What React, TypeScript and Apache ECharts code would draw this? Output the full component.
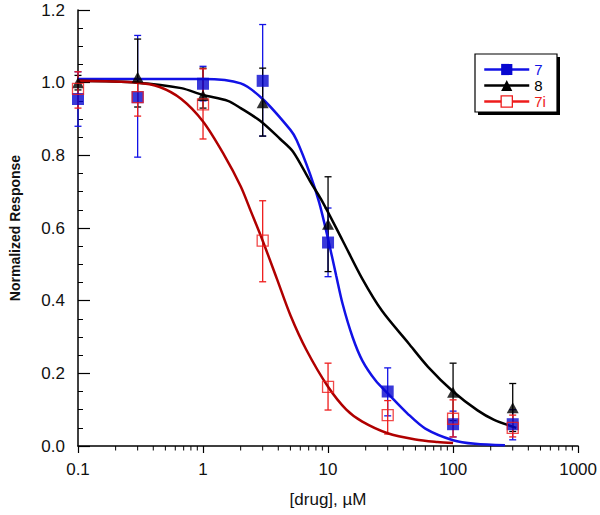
import React, { useEffect, useRef } from "react";
import * as echarts from "echarts";

// ---- data ----
const dose7 = [0.1, 0.3, 1, 3, 10, 30, 100, 300];
const resp7 = [0.955, 0.96, 0.997, 1.005, 0.56, 0.15, 0.06, 0.06];
const lo7 = [0.88, 0.795, 0.95, 0.853, 0.466, 0.083, 0.025, 0.017];
const hi7 = [1.03, 1.13, 1.045, 1.16, 0.655, 0.215, 0.096, 0.1];

const dose8 = [0.1, 0.3, 1, 3, 10, 100, 300];
const resp8 = [1.0, 1.015, 0.965, 0.945, 0.61, 0.148, 0.105];
const lo8 = [0.98, 0.933, 0.93, 0.853, 0.48, 0.07, 0.04];
const hi8 = [1.02, 1.12, 1.04, 1.04, 0.741, 0.228, 0.172];

const dose7i = [0.1, 0.3, 1, 3, 10, 30, 100, 300];
const resp7i = [0.983, 0.96, 0.94, 0.565, 0.163, 0.085, 0.075, 0.05];
const lo7i = [0.93, 0.908, 0.845, 0.452, 0.099, 0.033, 0.025, 0.025];
const hi7i = [1.03, 1.0, 1.038, 0.675, 0.228, 0.125, 0.127, 0.085];

// fitted curves
const fit7X = [0.1, 0.3, 1, 2, 3, 5, 5.6, 7.15, 8.5, 10, 11.6, 13.1, 15.7, 18.8, 24, 30, 43, 60, 100, 150, 260];
const fit7Y = [1.01, 1.01, 1.01, 0.998, 0.955, 0.87, 0.842, 0.75, 0.67, 0.57, 0.47, 0.39, 0.3, 0.235, 0.18, 0.145, 0.09, 0.048, 0.016, 0.006, 0.002];

const fit8X = [0.1, 0.3, 0.67, 1, 1.58, 2, 2.86, 4.14, 5.25, 7.15, 9.1, 13.1, 18.8, 27, 44, 63, 100, 157, 213, 320];
const fit8Y = [1.005, 1.0, 0.985, 0.966, 0.95, 0.93, 0.895, 0.845, 0.81, 0.73, 0.67, 0.565, 0.46, 0.372, 0.283, 0.218, 0.15, 0.098, 0.072, 0.05];

const fit7iX = [0.1, 0.3, 0.45, 0.67, 1, 1.48, 2, 2.42, 3, 3.9, 5, 6.7, 10, 14, 18.8, 30, 50, 75, 100];
const fit7iY = [1.005, 1.0, 0.988, 0.955, 0.893, 0.8, 0.715, 0.645, 0.565, 0.46, 0.36, 0.265, 0.163, 0.1, 0.067, 0.035, 0.018, 0.011, 0.008];

const seriesNames = ["7", "8", "7i"];
const xTickLabels = [0.1, 1, 10, 100, 1000];
const minorMantissas = [2, 3, 4, 5, 6, 7, 8, 9];
const minorDecades = [0.1, 1, 10, 100];

const BLUE = "#1212e6";
const BLUE_MK = "#0808d0";
const RED_CURVE = "#b00000";
const RED = "#ee1c1c";
const BLACK = "#000000";
const FONT = "'Liberation Sans', Arial, sans-serif";

const zip = (a: number[], b: number[]) => a.map((v, i) => [v, b[i]]);
const zip3 = (a: number[], b: number[], c: number[]) => a.map((v, i) => [v, b[i], c[i]]);

function errorBars(name: string, data: number[][], color: string) {
  return {
    type: "custom",
    name,
    z: 2,
    data,
    encode: { x: 0, y: [1, 2] },
    renderItem: (params: any, api: any) => {
      const x = api.value(0);
      const pLo = api.coord([x, api.value(1)]);
      const pHi = api.coord([x, api.value(2)]);
      const w = 3.5;
      const st = { stroke: color, lineWidth: 1.3 };
      return {
        type: "group",
        children: [
          { type: "line", shape: { x1: pLo[0], y1: pLo[1], x2: pHi[0], y2: pHi[1] }, style: st },
          { type: "line", shape: { x1: pHi[0] - w, y1: pHi[1], x2: pHi[0] + w, y2: pHi[1] }, style: st },
          { type: "line", shape: { x1: pLo[0] - w, y1: pLo[1], x2: pLo[0] + w, y2: pLo[1] }, style: st },
        ],
      };
    },
  };
}

function curve(name: string, xs: number[], ys: number[], color: string, symbol: string) {
  return {
    type: "line",
    name,
    z: 3,
    data: zip(xs, ys),
    smooth: 0.3,
    showSymbol: false,
    symbol,
    lineStyle: { color, width: 2.5 },
    itemStyle: { color },
  };
}

export default function App() {
  const ref = useRef<HTMLDivElement>(null);
  useEffect(() => {
    if (!ref.current) return;
    const chart = echarts.init(ref.current, null, { renderer: "svg" });
    const minorTicks: number[][] = [];
    minorDecades.forEach((d) => minorMantissas.forEach((m) => minorTicks.push([+(d * m).toPrecision(6), 0])));

    const option: any = {
      animation: false,
      backgroundColor: "#fff",
      textStyle: { fontFamily: FONT },
      grid: { left: 75, right: 18, top: 10, bottom: 69 },
      xAxis: {
        type: "log",
        logBase: 10,
        min: xTickLabels[0],
        max: xTickLabels[xTickLabels.length - 1],
        axisLine: { lineStyle: { color: BLACK, width: 1.5 } },
        axisTick: { inside: false, length: 7, lineStyle: { color: BLACK, width: 1.2 } },
        axisLabel: {
          color: "#111",
          fontSize: 17,
          margin: 15,
          fontFamily: FONT,
          formatter: (v: number) => String(+(+v).toPrecision(6)),
        },
        splitLine: { show: false },
        name: "[drug], µM",
        nameLocation: "middle",
        nameGap: 45,
        nameTextStyle: { fontSize: 17, color: "#111", fontFamily: FONT },
      },
      yAxis: {
        type: "value",
        min: 0,
        max: 1.2,
        interval: 0.2,
        axisLine: { show: true, lineStyle: { color: BLACK, width: 1.5 } },
        axisTick: { show: true, inside: true, length: 12, lineStyle: { color: BLACK, width: 1.2 } },
        minorTick: { show: true, splitNumber: 4, length: 5, lineStyle: { color: BLACK, width: 1 } },
        axisLabel: {
          color: "#111",
          fontSize: 17,
          margin: 13,
          fontFamily: FONT,
          formatter: (v: number) => v.toFixed(1),
        },
        splitLine: { show: false },
        name: "Normalized Response",
        nameLocation: "middle",
        nameGap: 56,
        nameTextStyle: { fontSize: 14, fontWeight: "bold", color: "#111", fontFamily: FONT },
      },
      legend: {
        show: true,
        selectedMode: false,
        orient: "vertical",
        left: 483,
        top: 62,
        padding: 0,
        itemGap: 1,
        itemWidth: 45,
        itemHeight: 14,
        z: 10,
        textStyle: { fontSize: 15, lineHeight: 14, fontFamily: FONT },
        data: [
          {
            name: seriesNames[0],
            textStyle: { color: BLUE },
            lineStyle: { color: BLUE, width: 2.5 },
            itemStyle: { color: BLUE_MK },
          },
          {
            name: seriesNames[1],
            textStyle: { color: BLACK },
            lineStyle: { color: BLACK, width: 2.5 },
            itemStyle: { color: BLACK },
          },
          {
            name: seriesNames[2],
            textStyle: { color: RED },
            lineStyle: { color: RED, width: 2.5 },
            itemStyle: { color: "#fff", borderColor: RED, borderWidth: 1.3 },
          },
        ],
      },
      graphic: [
        { type: "rect", z: 1, shape: { x: 478, y: 57, width: 82, height: 58 }, style: { fill: "#000" } },
        {
          type: "rect",
          z: 1,
          shape: { x: 475, y: 54, width: 82, height: 58 },
          style: { fill: "#fff", stroke: "#000", lineWidth: 1.2 },
        },
      ],
      series: [
        {
          type: "custom",
          name: "minorX",
          z: 2,
          data: minorTicks,
          clip: false,
          renderItem: (params: any, api: any) => {
            const p = api.coord([api.value(0), 0]);
            return {
              type: "line",
              shape: { x1: p[0], y1: p[1], x2: p[0], y2: p[1] + 4.5 },
              style: { stroke: BLACK, lineWidth: 1 },
            };
          },
        },
        errorBars("err7", zip3(dose7, lo7, hi7), BLUE),
        errorBars("err8", zip3(dose8, lo8, hi8), BLACK),
        errorBars("err7i", zip3(dose7i, lo7i, hi7i), RED),
        curve(seriesNames[0], fit7X, fit7Y, BLUE, "rect"),
        curve(seriesNames[1], fit8X, fit8Y, BLACK, "triangle"),
        curve(seriesNames[2], fit7iX, fit7iY, RED_CURVE, "rect"),
        {
          type: "scatter",
          name: "pts7",
          z: 4,
          data: zip(dose7, resp7),
          symbol: "rect",
          symbolSize: 12,
          itemStyle: { color: BLUE_MK },
        },
        {
          type: "scatter",
          name: "pts8",
          z: 4,
          data: zip(dose8, resp8),
          symbol: "triangle",
          symbolSize: [12, 11],
          itemStyle: { color: BLACK },
        },
        {
          type: "scatter",
          name: "pts7i",
          z: 4,
          data: zip(dose7i, resp7i),
          symbol: "rect",
          symbolSize: 11,
          itemStyle: { color: "rgba(255,255,255,0)", borderColor: RED, borderWidth: 1.3 },
        },
      ],
    };
    chart.setOption(option);
    return () => chart.dispose();
  }, []);
  return (
    <div
      ref={ref}
      style={{ position: "fixed", left: 0, top: 0, width: 600, height: 515, background: "#fff" }}
    />
  );
}
